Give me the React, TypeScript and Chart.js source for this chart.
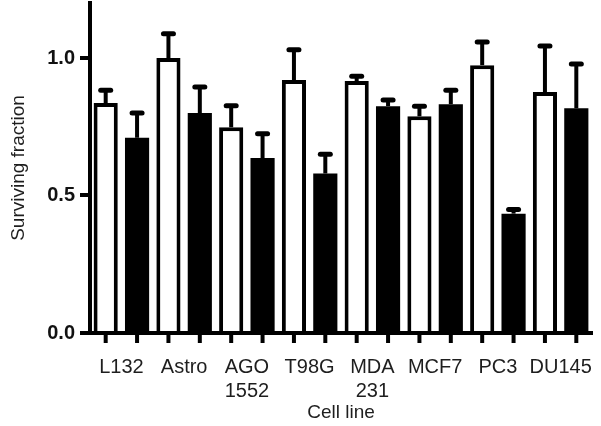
import React, { useEffect, useRef } from "react";
import { Chart, registerables } from "chart.js";

Chart.register(...registerables);

const categories: (string | string[])[] = [
  "L132",
  "Astro",
  ["AGO", "1552"],
  "T98G",
  ["MDA", "231"],
  "MCF7",
  "PC3",
  "DU145",
];
const openMeans = [0.836, 1.0, 0.748, 0.92, 0.916, 0.788, 0.974, 0.876];
const openErrors = [0.047, 0.088, 0.078, 0.11, 0.018, 0.037, 0.084, 0.168];
const filledMeans = [0.71, 0.8, 0.636, 0.58, 0.825, 0.832, 0.434, 0.817];
const filledErrors = [0.09, 0.095, 0.089, 0.07, 0.022, 0.051, 0.015, 0.161];
const yTickValues = [0, 0.5, 1.0];

const FONT = "'Liberation Sans', Arial, Helvetica, sans-serif";

const errorBarPlugin = {
  id: "errorBarsAndTicks",
  afterDatasetsDraw(chart: any) {
    const ctx = chart.ctx;
    const yScale = chart.scales.y;
    const area = chart.chartArea;
    ctx.save();
    chart.data.datasets.forEach((ds: any, di: number) => {
      const meta = chart.getDatasetMeta(di);
      const errs: number[] = ds.errors || [];
      meta.data.forEach((el: any, i: number) => {
        const v = ds.data[i];
        const e = errs[i] || 0;
        const x = el.x;
        const yTop = yScale.getPixelForValue(v + e);
        ctx.strokeStyle = "#000";
        ctx.lineCap = "butt";
        ctx.lineWidth = 4;
        ctx.beginPath();
        ctx.moveTo(x, el.y);
        ctx.lineTo(x, yTop);
        ctx.stroke();
        ctx.lineWidth = 5;
        ctx.lineCap = "round";
        ctx.beginPath();
        ctx.moveTo(x - 5, yTop);
        ctx.lineTo(x + 5, yTop);
        ctx.stroke();
        ctx.lineCap = "butt";
        ctx.lineWidth = 4;
        ctx.beginPath();
        ctx.moveTo(x, area.bottom);
        ctx.lineTo(x, area.bottom + 10);
        ctx.stroke();
      });
    });
    ctx.restore();
  },
};

export default function App() {
  const canvasRef = useRef<HTMLCanvasElement | null>(null);

  useEffect(() => {
    if (!canvasRef.current) return;
    const chart = new Chart(canvasRef.current, {
      type: "bar",
      data: {
        labels: categories as any,
        datasets: [
          {
            label: "Open",
            data: openMeans,
            errors: openErrors,
            backgroundColor: "#ffffff",
            borderColor: "#000000",
            borderWidth: 4,
            borderSkipped: "start",
            barPercentage: 0.77,
            categoryPercentage: 1.0,
          } as any,
          {
            label: "Filled",
            data: filledMeans,
            errors: filledErrors,
            backgroundColor: "#000000",
            borderColor: "#000000",
            borderWidth: 0,
            barPercentage: 0.77,
            categoryPercentage: 1.0,
          } as any,
        ],
      },
      options: {
        responsive: false,
        animation: false,
        events: [],
        layout: { padding: { top: 3, right: 9, bottom: 0, left: 0 } },
        plugins: {
          legend: { display: false },
          tooltip: { enabled: false },
        },
        scales: {
          x: {
            type: "category",
            grid: { display: false },
            border: { display: true, color: "#000", width: 4 },
            ticks: {
              color: "#1e1e1e",
              font: { family: FONT, size: 20, lineHeight: 1.17 },
              padding: 15,
              maxRotation: 0,
              autoSkip: false,
            },
            title: {
              display: true,
              text: "Cell line",
              color: "#1e1e1e",
              font: { family: FONT, size: 19, lineHeight: 1.2 },
              padding: { top: 0, bottom: 2 },
            },
            afterFit: (s: any) => {
              s.height = 93;
              s.paddingLeft = 0;
              s.paddingRight = 0;
            },
          },
          y: {
            min: 0,
            max: 1.2,
            grid: {
              drawOnChartArea: false,
              drawTicks: true,
              tickLength: 10,
              color: "#000",
              lineWidth: 4,
            },
            border: { display: true, color: "#000", width: 4 },
            ticks: {
              color: "#111",
              font: { family: FONT, size: 20, weight: "bold" },
              padding: 5,
              callback: (v: any) => Number(v).toFixed(1),
            },
            afterBuildTicks: (s: any) => {
              s.ticks = yTickValues.map((v) => ({ value: v }));
            },
            title: {
              display: true,
              text: "Surviving fraction",
              color: "#1e1e1e",
              font: { family: FONT, size: 19, lineHeight: 1.2 },
              padding: { top: 7, bottom: 0 },
            },
            afterFit: (s: any) => {
              s.width = 90;
              s.paddingTop = 0;
              s.paddingBottom = 0;
            },
          },
        },
      },
      plugins: [errorBarPlugin],
    });
    return () => chart.destroy();
  }, []);

  return (
    <div style={{ position: "absolute", left: 0, top: 0, width: 601, height: 426, background: "#fff" }}>
      <canvas ref={canvasRef} width={601} height={426} style={{ display: "block" }} />
    </div>
  );
}
